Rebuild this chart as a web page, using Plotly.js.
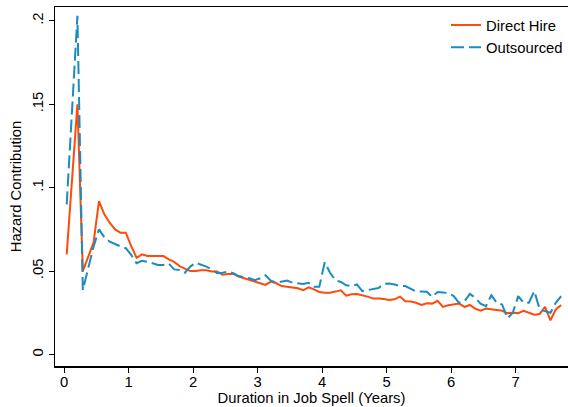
<!DOCTYPE html>
<html>
<head>
<meta charset="utf-8">
<script src="https://cdn.plot.ly/plotly-3.0.1.min.js"></script>
<style>html,body{margin:0;padding:0;background:#fff;}#chart{width:568px;height:407px;}</style>
</head>
<body>
<div id="chart"></div>
<script>
// Duration in job spell (years), one point per month
var durationYears = [
  0.042,0.125,0.208,0.292,0.375,0.458,0.542,0.625,0.708,0.792,0.875,0.958,
  1.042,1.125,1.208,1.292,1.375,1.458,1.542,1.625,1.708,1.792,1.875,1.958,
  2.042,2.125,2.208,2.292,2.375,2.458,2.542,2.625,2.708,2.792,2.875,2.958,
  3.042,3.125,3.208,3.292,3.375,3.458,3.542,3.625,3.708,3.792,3.875,3.958,
  4.042,4.125,4.208,4.292,4.375,4.458,4.542,4.625,4.708,4.792,4.875,4.958,
  5.042,5.125,5.208,5.292,5.375,5.458,5.542,5.625,5.708,5.792,5.875,5.958,
  6.042,6.125,6.208,6.292,6.375,6.458,6.542,6.625,6.708,6.792,6.875,6.958,
  7.042,7.125,7.208,7.292,7.375,7.458,7.542,7.625,7.708
];
var directHire = [
  0.060,0.105,0.150,0.050,0.058,0.067,0.092,0.084,0.079,0.075,0.073,0.073,
  0.065,0.058,0.060,0.059,0.059,0.059,0.059,0.057,0.0555,0.053,0.0515,0.050,
  0.050,0.0505,0.0505,0.0497,0.0497,0.0478,0.0483,0.0483,0.0467,0.0457,0.0447,0.0437,
  0.0427,0.0417,0.0437,0.0427,0.041,0.0406,0.0403,0.0397,0.0385,0.0403,0.039,0.0375,
  0.037,0.037,0.0377,0.0385,0.0353,0.0361,0.0362,0.0355,0.0347,0.0335,0.0336,0.0332,
  0.0327,0.0331,0.0347,0.0319,0.0317,0.031,0.0297,0.0307,0.0305,0.0322,0.0285,0.0295,
  0.0302,0.0305,0.0285,0.0297,0.0275,0.0263,0.0275,0.0273,0.0267,0.0262,0.0248,0.025,
  0.0248,0.0262,0.0252,0.0238,0.0243,0.0285,0.0205,0.027,0.0297
];
var outsourced = [
  0.090,0.146,0.203,0.0387,0.051,0.0646,0.075,0.0703,0.0676,0.066,0.0648,0.0637,
  0.0597,0.0547,0.0562,0.0556,0.0547,0.0537,0.0537,0.0545,0.051,0.0507,0.049,0.0527,
  0.055,0.054,0.0527,0.051,0.0487,0.049,0.0497,0.0487,0.047,0.0463,0.0457,0.0445,
  0.0457,0.0475,0.0443,0.043,0.0437,0.0443,0.043,0.0427,0.0423,0.043,0.0406,0.0406,
  0.0553,0.049,0.0445,0.0435,0.0415,0.041,0.042,0.038,0.0385,0.039,0.0398,0.0423,
  0.0425,0.042,0.041,0.041,0.0395,0.0378,0.0378,0.0376,0.0345,0.0375,0.0372,0.0368,
  0.035,0.031,0.0318,0.0363,0.034,0.0305,0.029,0.0355,0.031,0.030,0.0217,0.025,
  0.035,0.031,0.031,0.038,0.027,0.026,0.025,0.031,0.035
];
var xTickVals = [0,1,2,3,4,5,6,7];
var xTickText = ["0","1","2","3","4","5","6","7"];
var yTickVals = [0,0.05,0.1,0.15,0.2];
var yTickText = ["0",".05",".1",".15",".2"];

var fam = "Liberation Sans, Arial, sans-serif";
var fs = 14.8;
var font = {family: fam, size: fs, color: "#000"};

var traces = [
  {x: durationYears, y: directHire, type: "scatter", mode: "lines", name: "Direct Hire",
   line: {color: "#FF4A0A", width: 2}},
  {x: durationYears, y: outsourced, type: "scatter", mode: "lines", name: "Outsourced",
   line: {color: "#1A8CBF", width: 2, dash: "13px,5px"}}
];

var layout = {
  width: 568, height: 407,
  margin: {l: 55, r: 0, t: 7, b: 41, autoexpand: false},
  paper_bgcolor: "#fff", plot_bgcolor: "#fff",
  font: font,
  showlegend: true,
  legend: {x: 1, y: 0.995, xanchor: "right", yanchor: "top", bgcolor: "rgba(0,0,0,0)",
           font: font, tracegroupgap: 0},
  xaxis: {
    range: [-0.1395, 7.814], tickvals: xTickVals, ticktext: xTickText,
    ticks: "outside", ticklen: 5, tickcolor: "#000", tickwidth: 1,
    showline: true, linecolor: "#000", linewidth: 1.5, mirror: true,
    showgrid: false, zeroline: false, ticklabelstandoff: -3,
    tickfont: font,
    title: {text: "Duration in Job Spell (Years)", standoff: 0, font: font}
  },
  yaxis: {
    range: [-0.0069, 0.2083], tickvals: yTickVals, ticktext: yTickText,
    ticks: "outside", ticklen: 5, tickcolor: "#000", tickwidth: 1,
    showline: true, linecolor: "#000", linewidth: 1.5,
    showgrid: false, zeroline: false, tickangle: -90,
    tickfont: font,
    title: {text: "Hazard Contribution", standoff: 4, font: font}
  }
};

Plotly.newPlot("chart", traces, layout, {displayModeBar: false, staticPlot: true});
</script>
</body>
</html>
